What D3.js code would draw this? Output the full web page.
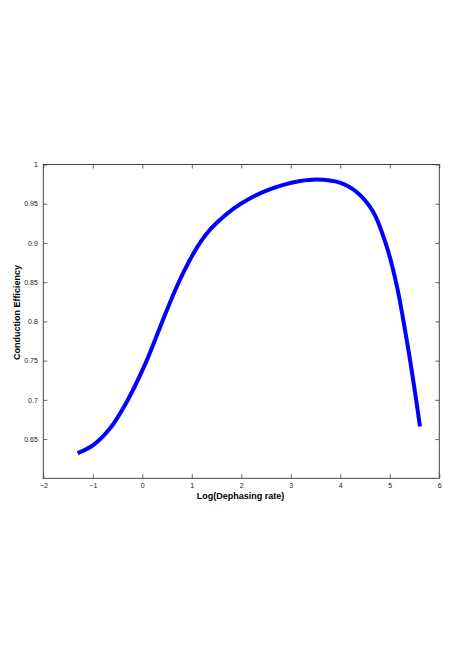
<!DOCTYPE html>
<html>
<head>
<meta charset="utf-8">
<script src="https://cdn.jsdelivr.net/npm/d3@7"></script>
<style>
html,body{margin:0;padding:0;background:#fff;}
svg{display:block;}
text{font-family:"Liberation Sans",Arial,Helvetica,sans-serif;}
</style>
</head>
<body>
<script>
const xValues = [-1.307,-0.984,-0.647,-0.309,0.026,0.263,0.43,0.632,0.834,1.07,1.29,1.51,1.85,2.18,2.52,2.85,3.19,3.52,3.99,4.33,4.66,4.93,5.14,5.34,5.48,5.61];
const yValues = [0.632,0.6427,0.664,0.698,0.741,0.7773,0.804,0.835,0.8628,0.8905,0.911,0.926,0.944,0.957,0.967,0.974,0.979,0.981,0.977,0.965,0.940,0.897,0.846,0.777,0.722,0.666];
const xTicks = [-2,-1,0,1,2,3,4,5,6];
const yTicks = [0.65,0.7,0.75,0.8,0.85,0.9,0.95,1];
const xLabel = "Log(Dephasing rate)";
const yLabel = "Conduction Efficiency";

const W = 463, H = 656;
const L = 43.3, R = 439.3, T = 164.5, B = 478.3;
const svg = d3.select("body").append("svg").attr("width", W).attr("height", H);
const x = d3.scaleLinear().domain([-2,6]).range([L,R]);
const y = d3.scaleLinear().domain([0.6,1]).range([B,T]);
const axisColor = "#444";
const fmtX = d => (d < 0 ? "\u2212" + Math.abs(d) : String(d));

function styleAxis(g, showText){
  g.select(".domain").remove();
  g.selectAll(".tick line").attr("stroke", axisColor).attr("stroke-width", 0.8);
  g.selectAll(".tick text").attr("fill", "#222").style("font-size","7px");
  if(!showText) g.selectAll(".tick text").remove();
}
// bottom
svg.append("g").attr("transform",`translate(0,${B})`)
  .call(d3.axisBottom(x).tickValues(xTicks).tickSize(-4).tickPadding(5).tickFormat(fmtX))
  .call(g=>styleAxis(g,true));
// top
svg.append("g").attr("transform",`translate(0,${T})`)
  .call(d3.axisTop(x).tickValues(xTicks).tickSize(-4))
  .call(g=>styleAxis(g,false));
// left
svg.append("g").attr("transform",`translate(${L},0)`)
  .call(d3.axisLeft(y).tickValues(yTicks).tickSize(-4).tickPadding(5.5).tickFormat(d=>String(+d.toFixed(2))))
  .call(g=>styleAxis(g,true));
// right
svg.append("g").attr("transform",`translate(${R},0)`)
  .call(d3.axisRight(y).tickValues(yTicks).tickSize(-4))
  .call(g=>styleAxis(g,false));

svg.append("rect").attr("x",L).attr("y",T).attr("width",R-L).attr("height",B-T)
  .attr("fill","none").attr("stroke",axisColor).attr("stroke-width",1);

const pts = xValues.map((v,i)=>[v,yValues[i]]);
svg.append("path").datum(pts)
  .attr("fill","none").attr("stroke","#0000ff").attr("stroke-width",4)
  .attr("stroke-linecap","butt")
  .attr("d", d3.line().x(d=>x(d[0])).y(d=>y(d[1])).curve(d3.curveCatmullRom.alpha(0.5)));

svg.append("text").attr("x",240.5).attr("y",499)
  .attr("text-anchor","middle").style("font-size","9px").style("font-weight","bold").text(xLabel);
svg.append("text").attr("transform",`translate(20,312.5) rotate(-90)`)
  .attr("text-anchor","middle").style("font-size","9px").style("font-weight","bold").text(yLabel);
</script>
</body>
</html>
